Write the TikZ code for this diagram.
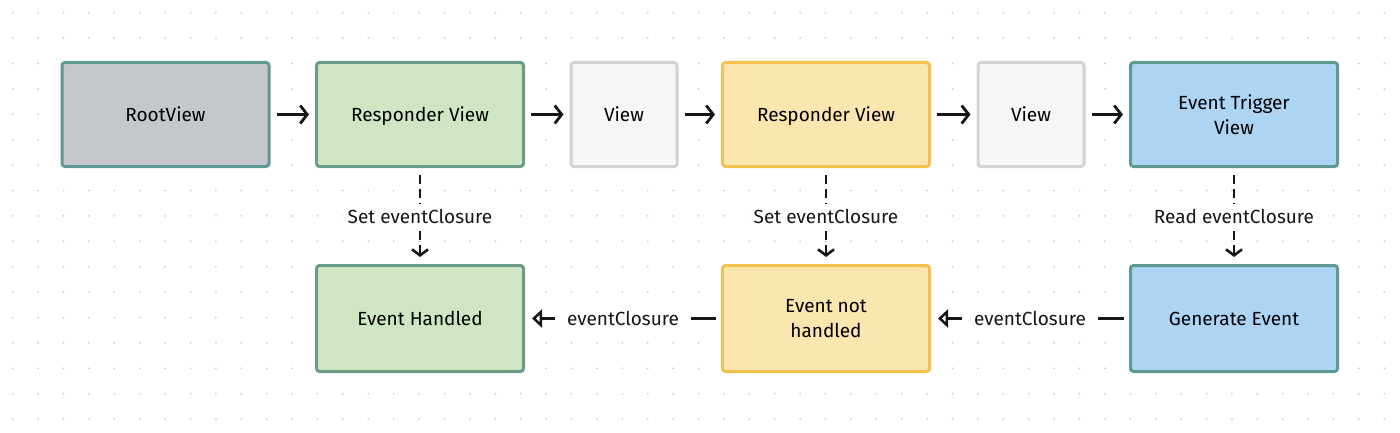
\documentclass[tikz,border=0pt]{standalone}
\usepackage{fontspec}
\setmainfont{Fira Sans}
\usetikzlibrary{arrows.meta}

\definecolor{colT}{HTML}{5E9A92}
\definecolor{fillR}{HTML}{C4C7CB}
\definecolor{colG}{HTML}{6A9C8A}
\definecolor{fillG}{HTML}{D0E6C2}
\definecolor{colV}{HTML}{D0D4CE}
\definecolor{fillV}{HTML}{F6F6F6}
\definecolor{colY}{HTML}{F4C04E}
\definecolor{fillY}{HTML}{FAE6AE}
\definecolor{fillB}{HTML}{ADD4F3}
\definecolor{colDot}{HTML}{C9CCC9}
\definecolor{colA}{HTML}{161616}

\tikzstyle{block} = [draw, rectangle, rounded corners=3pt, line width=3pt,
                     minimum height=104pt, minimum width=207pt, align=center,
                     text depth=0pt,
                     font=\fontsize{19}{25}\selectfont]
\tikzstyle{lbl} = [fill=white, inner sep=5pt, font=\fontsize{19}{22}\selectfont]

\begin{document}
\begin{tikzpicture}[x=1pt,y=-1pt]

\useasboundingbox (0,0) rectangle (1400,433);

% dotted background grid
\foreach \i in {0,...,54}
  \foreach \j in {0,...,16}
    \fill[colDot] (12.7+25.4*\i,12.7+25.4*\j) circle (1pt);

% top row
\node at (165.5,114.5)[block,draw=colT,fill=fillR] (root) {RootView};
\node at (420,114.5)[block,draw=colG,fill=fillG] (resp1) {Responder View};
\node at (624,114.5)[block,draw=colV,fill=fillV,
                     minimum width=106pt] (view1) {View};
\node at (826,114.5)[block,draw=colY,fill=fillY] (resp2) {Responder View};
\node at (1031,114.5)[block,draw=colV,fill=fillV,
                      minimum width=106pt] (view2) {View};
\node at (1234,114.5)[block,draw=colT,fill=fillB] (trig) {Event Trigger\\View};

% bottom row
\node at (420,318.5)[block,draw=colG,fill=fillG,
                     minimum height=106pt] (handled) {Event Handled};
\node at (826,318.5)[block,draw=colY,fill=fillY,
                     minimum height=106pt] (nothandled) {Event not\\handled};
\node at (1234,318.5)[block,draw=colT,fill=fillB,
                      minimum height=106pt] (gen) {Generate Event};

% view chain
\foreach \a/\b in {root/resp1,resp1/view1,view1/resp2,resp2/view2,view2/trig}
  \draw[-{Straight Barb[length=7pt,width=18pt]},line width=2.8pt,colA,
        shorten <=6pt,shorten >=6pt]
        (\a.east) -- (\b.west);

% closures
\draw[-{Straight Barb[length=6pt,width=16pt]},line width=2.6pt,colA,
      dash pattern=on 9pt off 5pt,shorten <=7pt,shorten >=7pt]
      (resp1.south) -- node[lbl] {Set eventClosure} (handled.north);
\draw[-{Straight Barb[length=6pt,width=16pt]},line width=2.6pt,colA,
      dash pattern=on 9pt off 5pt,shorten <=7pt,shorten >=7pt]
      (resp2.south) -- node[lbl] {Set eventClosure} (nothandled.north);
\draw[-{Straight Barb[length=6pt,width=16pt]},line width=2.6pt,colA,
      dash pattern=on 9pt off 5pt,shorten <=7pt,shorten >=7pt]
      (trig.south) -- node[lbl] {Read eventClosure} (gen.north);

\draw[-{Triangle[open,length=10pt,width=18pt]},line width=2.8pt,colA,
      shorten <=5pt,shorten >=7pt]
      (gen.west) -- node[lbl,inner xsep=12pt] {eventClosure} (nothandled.east);
\draw[-{Triangle[open,length=10pt,width=18pt]},line width=2.8pt,colA,
      shorten <=5pt,shorten >=7pt]
      (nothandled.west) -- node[lbl,inner xsep=12pt] {eventClosure} (handled.east);

\end{tikzpicture}
\end{document}
